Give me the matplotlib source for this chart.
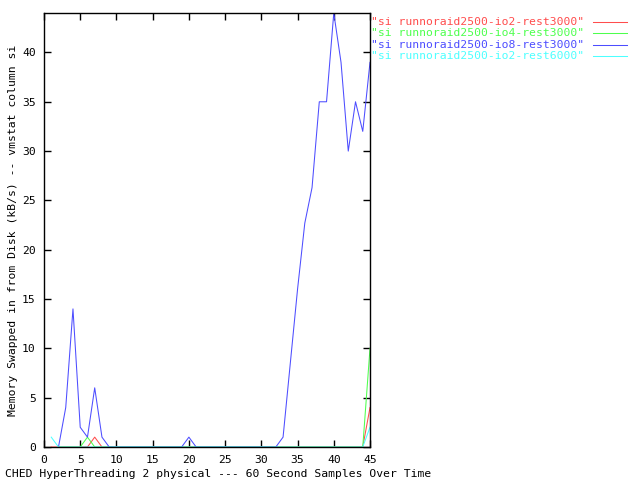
import matplotlib
matplotlib.use("Agg")
import matplotlib.pyplot as plt
from matplotlib.lines import Line2D

# vmstat "si" column, one sample per minute
x_red = [1, 2, 3, 4, 5, 6, 7, 8, 9, 10, 20, 30, 40, 44, 45]
y_red = [0, 0, 0, 0, 0, 0, 1, 0, 0, 0, 0, 0, 0, 0, 4]

x_green = [2, 3, 4, 5, 6, 7, 8, 20, 30, 40, 44, 45]
y_green = [0, 0, 0, 0, 1, 0, 0, 0, 0, 0, 0, 10]

x_blue = [2, 3, 4, 5, 6, 7, 8, 9, 19, 20, 21, 32, 33, 34, 35, 36, 37,
          38, 39, 40, 41, 42, 43, 44, 45]
y_blue = [0, 4, 14, 2, 1, 6, 1, 0, 0, 1, 0, 0, 1, 8.5, 16, 22.7, 26.3,
          35, 35, 44, 39, 30, 35, 32, 39]

x_cyan = [1, 2, 10, 20, 30, 40, 44, 45]
y_cyan = [1, 0, 0, 0, 0, 0, 0, 2]

labels = ['"si runnoraid2500-io2-rest3000"',
          '"si runnoraid2500-io4-rest3000"',
          '"si runnoraid2500-io8-rest3000"',
          '"si runnoraid2500-io2-rest6000"']
colors = ['#ff4d4d', '#4dff4d', '#4d4dff', '#4dffff']

plt.rcParams['font.family'] = 'DejaVu Sans Mono'
plt.rcParams['font.size'] = 8.2

fig = plt.figure(figsize=(6.4, 4.8), dpi=100)
ax = fig.add_axes([44 / 640, 33 / 480, 326 / 640, 434 / 480])

series = [(x_red, y_red), (x_green, y_green), (x_blue, y_blue), (x_cyan, y_cyan)]
for (xs, ys), c in zip(series, colors):
    ax.plot(xs, ys, color=c, linewidth=0.75)

ax.set_xlim(0, 45)
ax.set_ylim(0, 44)
ax.set_xticks(range(0, 46, 5))
ax.set_yticks(range(0, 41, 5))
ax.tick_params(direction='in', length=5, width=1, top=True, right=True, pad=6)
for s in ax.spines.values():
    s.set_linewidth(1)

ax.set_ylabel("Memory Swapped in from Disk (kB/s) -- vmstat column si")
ax.yaxis.set_label_coords(-26 / 326, 0.5)
fig.text(431 / 640, 1 - 474 / 480,
         "CHED HyperThreading 2 physical --- 60 Second Samples Over Time",
         ha='right', va='center')

# legend outside on the right, like gnuplot
for i, (lab, c) in enumerate(zip(labels, colors)):
    yy = 1 - (22 + i * 11.4) / 480
    fig.text(584 / 640, yy, lab, color=c, ha='right', va='center')
    fig.add_artist(Line2D([593 / 640, 627 / 640], [yy, yy], color=c,
                          linewidth=0.75, transform=fig.transFigure))

fig.savefig("out.png", dpi=100)
